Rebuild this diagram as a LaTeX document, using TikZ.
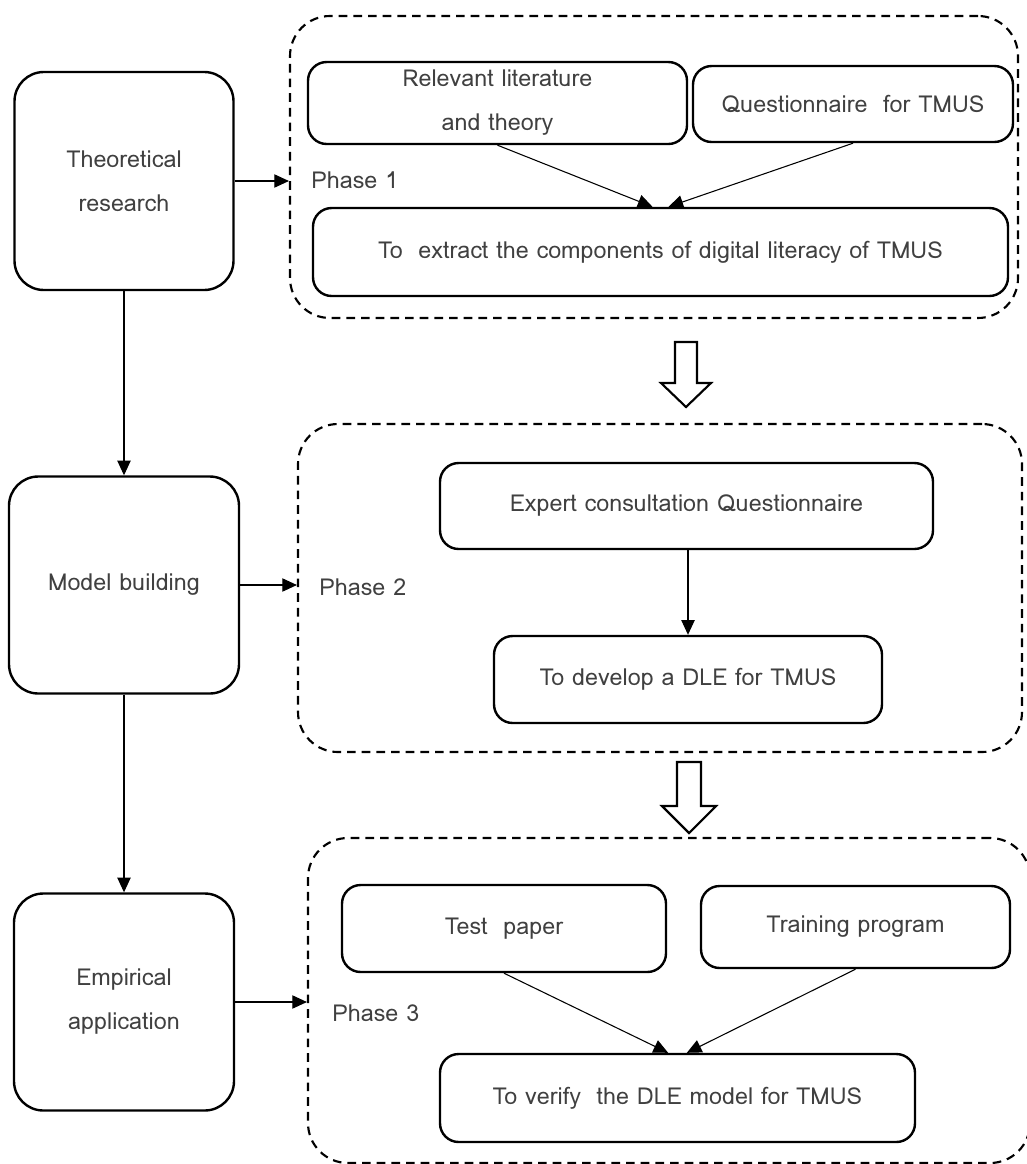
\documentclass[tikz,border=0pt]{standalone}
\usepackage{fontspec}
\setmainfont{Loma}
\usetikzlibrary{arrows.meta,calc}
\tikzset{
  box/.style={draw, line width=1.8pt, rounded corners=14pt, inner sep=0pt, align=center,
              font={\fontsize{17.5}{33}\selectfont}, text=black!75},
  stagebox/.style={box, rounded corners=22pt},
  phasebox/.style={draw, line width=1.6pt, dash pattern=on 6.5pt off 4.5pt, rounded corners=30pt, inner sep=0pt},
  link/.style={line width=0.8pt, -{Triangle[length=11pt,width=10pt]}},
  phaselabel/.style={anchor=west, inner sep=0pt, font={\fontsize{17.5}{20}\selectfont}, text=black!75},
  bigarrow/.style={draw, line width=1.6pt, fill=white, line join=miter}
}
\begin{document}
\begin{tikzpicture}[x=0.75pt,y=-0.75pt]
\useasboundingbox (0,0) rectangle (1027,1164);
\clip (0,0) rectangle (1027,1164);

% stages on the left
\node[stagebox, minimum width=219*0.75pt, minimum height=218*0.75pt] (tr) at (124,181) {Theoretical\\research};
\node[stagebox, minimum width=230*0.75pt, minimum height=217*0.75pt] (mb) at (124,585) {Model building};
\node[stagebox, minimum width=220*0.75pt, minimum height=217*0.75pt] (ea) at (124,1002) {Empirical\\application};

% phase containers
\node[phasebox, minimum width=728*0.75pt, minimum height=302*0.75pt] (p1) at (654,167) {};
\node[phasebox, minimum width=724*0.75pt, minimum height=328*0.75pt] (p2) at (660,588) {};
\node[phasebox, minimum width=722*0.75pt, minimum height=325*0.75pt] (p3) at (669,1000.5) {};

\node[phaselabel] (l1) at (311,180) {Phase 1};
\node[phaselabel] (l2) at (319,587) {Phase 2};
\node[phaselabel] (l3) at (332,1013) {Phase 3};

% phase 1 content
\node[box, minimum width=379*0.75pt, minimum height=82*0.75pt] (lit) at (497.5,103) {Relevant literature\\and theory};
\node[box, minimum width=320*0.75pt, minimum height=76*0.75pt] (qn) at (853,104) {Questionnaire~ for TMUS};
\node[box, minimum width=695*0.75pt, minimum height=88*0.75pt] (ext) at (660.5,252) {To~ extract the components of digital literacy of TMUS};

% phase 2 content
\node[box, minimum width=493*0.75pt, minimum height=86*0.75pt] (exp) at (686.5,506) {Expert consultation Questionnaire};
\node[box, minimum width=388*0.75pt, minimum height=87*0.75pt] (dev) at (688,679.5) {To develop a DLE for TMUS};

% phase 3 content
\node[box, minimum width=324*0.75pt, minimum height=87*0.75pt] (tp) at (504,928.5) {Test~ paper};
\node[box, minimum width=309*0.75pt, minimum height=82*0.75pt] (trp) at (855.5,927) {Training program};
\node[box, minimum width=475*0.75pt, minimum height=88*0.75pt] (ver) at (677.5,1098) {To verify~ the DLE model for TMUS};

% connectors
\draw[link] (tr.south) -- (mb.north);
\draw[link] (mb.south) -- (ea.north);
\draw[link] (tr.east) -- (tr.east -| p1.west);
\draw[link] (mb.east) -- (mb.east -| p2.west);
\draw[link] (ea.east) -- (ea.east -| p3.west);

\draw[link] (lit.south) -- ([xshift=-6pt]ext.north);
\draw[link] (qn.south) -- ([xshift=6pt]ext.north);
\draw[link] (exp.south -| dev.north) -- (dev.north);
\draw[link] (tp.south) -- ([xshift=-7pt]ver.north);
\draw[link] (trp.south) -- ([xshift=7pt]ver.north);

% hollow arrows between phases
\coordinate (a1) at (686,342);
\draw[bigarrow] ($(a1)+(-11,0)$) -- ($(a1)+(11,0)$) -- ($(a1)+(11,41)$) -- ($(a1)+(25,41)$)
  -- ($(a1)+(0,65)$) -- ($(a1)+(-25,41)$) -- ($(a1)+(-11,41)$) -- cycle;
\coordinate (a2) at (689,762);
\draw[bigarrow] ($(a2)+(-12,0)$) -- ($(a2)+(12,0)$) -- ($(a2)+(12,44)$) -- ($(a2)+(27,44)$)
  -- ($(a2)+(0,71)$) -- ($(a2)+(-27,44)$) -- ($(a2)+(-12,44)$) -- cycle;
\end{tikzpicture}
\end{document}
